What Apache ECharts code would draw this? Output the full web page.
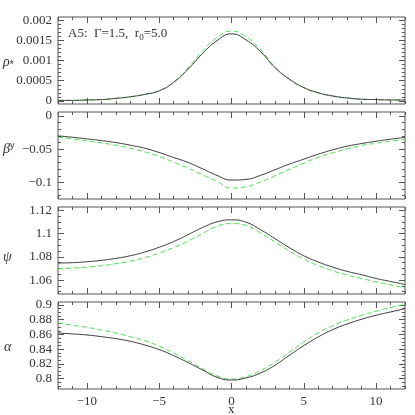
<!DOCTYPE html>
<html>
<head>
<meta charset="utf-8">
<script src="https://cdn.jsdelivr.net/npm/echarts@6.0.0/dist/echarts.min.js"></script>
<style>
  html, body { margin: 0; padding: 0; background: #fff; }
  #chart { width: 415px; height: 415px; }
</style>
</head>
<body>
<div id="chart"></div>
<script>
  // x grid of the profiles
  const xs = [-12, -11, -10, -9, -8, -7, -6, -5, -4, -3, -2, -1, 0, 1, 2, 3, 4, 5, 6, 7, 8, 9, 10, 11, 12];

  // rho_* (black solid / green dashed)
  const rhoBlack = [0.00001, 0.00001, 0.00002, 0.00003, 0.00006, 0.0001, 0.00016, 0.00025, 0.00046, 0.00079, 0.00118, 0.0015, 0.00167, 0.00152, 0.00123, 0.00083, 0.00054, 0.00033, 0.0002, 0.00012, 0.00007, 0.00004, 0.00003, 0.00002, 0.00002];
  const rhoGreen = [0.00001, 0.00001, 0.00002, 0.00003, 0.00006, 0.0001, 0.00016, 0.00025, 0.00047, 0.00082, 0.00124, 0.00158, 0.00174, 0.0016, 0.00128, 0.00085, 0.00054, 0.00033, 0.0002, 0.00012, 0.00007, 0.00004, 0.00003, 0.00002, 0.00002];

  // beta^y
  const betaBlack = [-0.030, -0.032, -0.0345, -0.037, -0.040, -0.044, -0.0485, -0.055, -0.0625, -0.070, -0.0795, -0.0895, -0.0965, -0.0955, -0.0895, -0.081, -0.0725, -0.065, -0.0575, -0.051, -0.0455, -0.0415, -0.038, -0.035, -0.032];
  const betaGreen = [-0.032, -0.0345, -0.0375, -0.0405, -0.044, -0.0485, -0.054, -0.061, -0.0695, -0.0785, -0.0885, -0.0985, -0.1085, -0.1065, -0.0995, -0.090, -0.0805, -0.071, -0.0625, -0.0555, -0.0495, -0.0445, -0.041, -0.038, -0.035];

  // psi
  const psiBlack = [1.0747, 1.075, 1.0758, 1.077, 1.0787, 1.081, 1.0842, 1.0883, 1.0932, 1.0992, 1.1053, 1.1102, 1.1119, 1.1099, 1.1035, 1.0958, 1.088, 1.081, 1.0756, 1.0712, 1.0675, 1.0646, 1.0614, 1.0588, 1.0562];
  const psiGreen = [1.0698, 1.0704, 1.0712, 1.0724, 1.0741, 1.0764, 1.0793, 1.0833, 1.088, 1.0937, 1.1001, 1.1064, 1.1087, 1.107, 1.1007, 1.0929, 1.0851, 1.0782, 1.0724, 1.068, 1.0643, 1.0614, 1.0585, 1.0559, 1.0533];

  // alpha
  const alphaBlack = [0.862, 0.8607, 0.8593, 0.857, 0.8543, 0.8507, 0.8457, 0.8394, 0.8313, 0.8218, 0.8118, 0.8019, 0.7982, 0.801, 0.8077, 0.8181, 0.8317, 0.8448, 0.8566, 0.8665, 0.8742, 0.8806, 0.886, 0.8905, 0.895];
  const alphaGreen = [0.8756, 0.8724, 0.8697, 0.8661, 0.862, 0.857, 0.8516, 0.8439, 0.8349, 0.8245, 0.8136, 0.8037, 0.7996, 0.8028, 0.8109, 0.8222, 0.8358, 0.8498, 0.862, 0.872, 0.8796, 0.886, 0.8914, 0.8964, 0.9009];

  // tick labels
  const xTicks = [-10, -5, 0, 5, 10];
  const rhoTicks = [0, 0.0005, 0.001, 0.0015, 0.002];
  const betaTicks = [-0.1, -0.05, 0];
  const psiTicks = [1.06, 1.08, 1.1, 1.12];
  const alphaTicks = [0.8, 0.82, 0.84, 0.86, 0.88, 0.9];

  const panels = [
    { black: rhoBlack, green: rhoGreen, min: -0.00008, max: 0.00209, ticks: rhoTicks, step: 0.0001 },
    { black: betaBlack, green: betaGreen, min: -0.125, max: 0.006, ticks: betaTicks, step: 0.01 },
    { black: psiBlack, green: psiGreen, min: 1.048, max: 1.123, ticks: psiTicks, step: 0.005 },
    { black: alphaBlack, green: alphaGreen, min: 0.786, max: 0.904, ticks: alphaTicks, step: 0.005 }
  ];
  const gridTops = [17, 112, 207, 302];
  const gridH = 87;

  const frame = '#555';
  const font = '"Liberation Serif", serif';

  // minor tick positions between min and max
  function minorTicks(min, max, step) {
    const out = [];
    for (let k = Math.ceil(min / step - 1e-9); k * step <= max + 1e-12; k++) {
      out.push(Number((k * step).toFixed(8)));
    }
    return out;
  }
  function fmt(v) {
    return String(v).replace('-', '\u2212');
  }
  const xMinor = minorTicks(-12, 12, 1);

  const grids = [], xAxes = [], yAxes = [], series = [];

  panels.forEach((p, i) => {
    grids.push({
      left: 58, right: 10, top: gridTops[i], height: gridH,
      show: true, borderColor: frame, borderWidth: 1, backgroundColor: 'transparent'
    });
    const yMinor = minorTicks(p.min, p.max, p.step);

    ['bottom', 'top'].forEach(pos => {
      [[xTicks, 6], [xMinor, 3]].forEach(([vals, len], j) => {
        xAxes.push({
          gridIndex: i, type: 'value', min: -12, max: 12, position: pos,
          axisLine: { show: false, onZero: false },
          splitLine: { show: false },
          axisTick: { show: true, inside: true, length: len, customValues: vals, lineStyle: { color: frame, width: 1 } },
          axisLabel: {
            show: i === 3 && pos === 'bottom' && j === 0,
            customValues: xTicks, formatter: fmt, margin: 6,
            color: '#333', fontFamily: font, fontSize: 13
          }
        });
      });
    });

    ['left', 'right'].forEach(pos => {
      [[p.ticks, 6], [yMinor, 3]].forEach(([vals, len], j) => {
        yAxes.push({
          gridIndex: i, type: 'value', min: p.min, max: p.max, position: pos,
          axisLine: { show: false, onZero: false },
          splitLine: { show: false },
          axisTick: { show: true, inside: true, length: len, customValues: vals, lineStyle: { color: frame, width: 1 } },
          axisLabel: {
            show: pos === 'left' && j === 0,
            customValues: p.ticks, formatter: fmt, margin: 6,
            color: '#333', fontFamily: font, fontSize: 13
          }
        });
      });
    });

    series.push({
      type: 'line', xAxisIndex: i * 4, yAxisIndex: i * 4,
      data: xs.map((x, k) => [x, p.green[k]]),
      showSymbol: false, smooth: 0.5, clip: true,
      lineStyle: { color: '#44e044', width: 1, type: [5, 3] }
    });
    series.push({
      type: 'line', xAxisIndex: i * 4, yAxisIndex: i * 4,
      data: xs.map((x, k) => [x, p.black[k]]),
      showSymbol: false, smooth: 0.5, clip: true,
      lineStyle: { color: '#3a3a3a', width: 1 }
    });
  });

  const label = (x, y, text, rich) => ({
    type: 'text', x: x, y: y,
    style: { text: text, fill: '#333', font: '13px ' + font, verticalAlign: 'middle', rich: rich || {} }
  });
  const greek = { g: { fontFamily: font, fontSize: 14, fontStyle: 'italic', fill: '#333' } };

  const option = {
    animation: false,
    backgroundColor: '#fff',
    grid: grids,
    xAxis: xAxes,
    yAxis: yAxes,
    series: series,
    graphic: [
      label(68, 34, 'A5:  \u0393=1.5,  r{sub|0}=5.0', { sub: { fontFamily: font, fontSize: 9, fill: '#333', padding: [8, 0, 0, 0] } }),
      label(3, 62, '{g|\u03c1}{s|*}', Object.assign({ s: { fontSize: 10, fill: '#333', padding: [6, 0, 0, 0] } }, greek)),
      label(3, 149, '{g|\u03b2}{s|y}', Object.assign({ s: { fontSize: 9, fill: '#333', padding: [0, 0, 6, 0] } }, greek)),
      label(3, 257, '{g|\u03c8}', greek),
      label(4, 347, '{g|\u03b1}', greek),
      label(228, 410, 'x')
    ]
  };

  const chart = echarts.init(document.getElementById('chart'));
  chart.setOption(option);
</script>
</body>
</html>
